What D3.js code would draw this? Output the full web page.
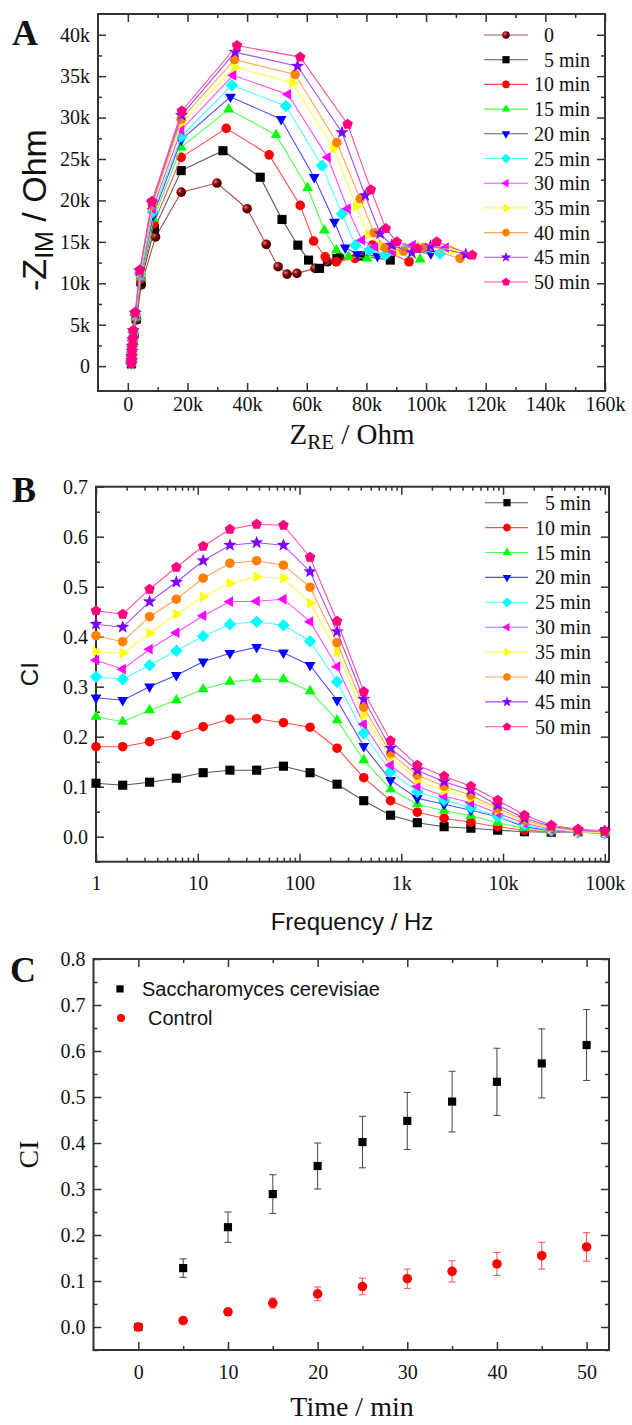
<!DOCTYPE html>
<html>
<head>
<meta charset="utf-8">
<script src="https://cdn.jsdelivr.net/npm/d3@7"></script>
<style>
  body { margin: 0; background: #fff; }
  svg { display: block; }
</style>
</head>
<body>
<svg width="632" height="1425"></svg>
<script>
// ---------- data ----------
// panel A: Nyquist plot, [Z_RE, -Z_IM] in kOhm, high frequency -> low frequency
const nyqLabels = ["0", "5 min", "10 min", "15 min", "20 min", "25 min", "30 min", "35 min", "40 min", "45 min", "50 min"];
const nyq0  = [[1.2,0.3],[1.3,0.7],[1.3,1.2],[1.4,1.7],[1.6,2.3],[1.8,3.0],[2.1,3.8],[2.9,5.6],[4.5,9.8],[9.3,15.6],[17.9,21.0],[29.9,22.1],[40.0,19.0],[46.4,14.7],[50.4,12.0],[53.4,11.1],[56.7,11.2],[62.8,11.8],[67.0,12.6],[71.0,13.2]];
const nyq5  = [[1.2,0.3],[1.3,0.7],[1.3,1.2],[1.4,1.7],[1.5,2.3],[1.7,3.0],[2.0,3.9],[2.8,5.7],[4.4,10.2],[8.9,16.6],[17.9,23.6],[31.9,26.0],[44.4,22.8],[51.7,17.7],[57.0,14.6],[60.6,12.8],[64.3,11.8],[70.1,13.0],[78.0,13.3],[88.0,12.8]];
const nyq10 = [[1.2,0.3],[1.3,0.7],[1.3,1.2],[1.4,1.7],[1.5,2.3],[1.7,3.0],[2.0,3.9],[2.8,5.8],[4.3,10.5],[8.7,17.2],[17.9,25.2],[33.0,28.7],[47.4,25.5],[57.8,19.4],[62.3,15.1],[66.2,13.2],[69.9,12.6],[76.2,13.0],[82.0,14.6],[94.3,12.6]];
const nyq15 = [[1.2,0.3],[1.3,0.7],[1.3,1.2],[1.4,1.7],[1.5,2.3],[1.7,3.1],[1.9,4.0],[2.7,5.9],[4.3,10.7],[8.6,17.8],[17.9,26.4],[33.8,31.0],[49.7,27.9],[60.3,21.5],[65.9,16.4],[69.9,14.0],[74.0,13.2],[80.2,13.0],[87.0,13.8],[98.0,12.9]];
const nyq20 = [[1.2,0.3],[1.3,0.7],[1.3,1.2],[1.4,1.7],[1.5,2.3],[1.7,3.1],[1.9,4.0],[2.7,6.0],[4.2,10.9],[8.5,18.2],[17.9,27.3],[34.4,32.5],[51.4,29.8],[62.5,22.8],[69.3,17.4],[72.9,14.3],[77.0,13.5],[83.7,13.3],[90.0,14.0],[101.6,13.6]];
const nyq25 = [[1.2,0.3],[1.3,0.7],[1.3,1.2],[1.4,1.7],[1.5,2.3],[1.7,3.1],[1.9,4.1],[2.6,6.1],[4.2,11.0],[8.4,18.6],[17.9,27.7],[34.9,33.9],[53.0,31.4],[65.1,24.2],[71.8,18.4],[76.3,14.6],[81.0,14.0],[86.3,13.4],[93.0,14.2],[104.7,13.6]];
const nyq30 = [[1.2,0.3],[1.3,0.7],[1.3,1.2],[1.4,1.7],[1.5,2.3],[1.7,3.1],[1.9,4.1],[2.6,6.2],[4.1,11.2],[8.3,19.0],[17.9,28.5],[35.3,35.1],[53.7,32.8],[67.0,25.2],[73.7,19.0],[78.5,15.2],[83.0,14.4],[89.0,13.8],[95.5,14.6],[106.6,14.3]];
const nyq35 = [[1.2,0.3],[1.3,0.7],[1.3,1.2],[1.4,1.7],[1.5,2.4],[1.7,3.2],[1.9,4.2],[2.6,6.3],[4.1,11.3],[8.2,19.3],[17.9,29.3],[35.8,36.1],[55.2,34.2],[69.0,26.3],[76.6,19.3],[80.7,15.9],[85.0,14.6],[91.0,13.8],[98.0,14.5],[109.2,14.0]];
const nyq40 = [[1.2,0.3],[1.3,0.7],[1.3,1.2],[1.4,1.7],[1.5,2.4],[1.7,3.2],[1.8,4.2],[2.5,6.3],[4.1,11.4],[8.2,19.5],[17.9,29.8],[35.8,37.0],[56.1,35.2],[70.1,27.0],[77.9,20.2],[82.6,16.1],[86.3,14.3],[92.5,13.9],[99.4,14.3],[111.4,13.0]];
const nyq45 = [[1.2,0.3],[1.3,0.7],[1.3,1.2],[1.4,1.8],[1.5,2.4],[1.7,3.2],[1.8,4.3],[2.5,6.4],[4.0,11.5],[8.1,19.7],[18.0,30.3],[36.0,37.9],[56.9,36.2],[71.8,28.2],[79.6,20.6],[84.6,16.0],[88.5,14.6],[95.2,13.7],[101.5,14.5],[113.3,13.5]];
const nyq50 = [[1.2,0.3],[1.3,0.7],[1.3,1.2],[1.4,1.8],[1.5,2.4],[1.7,3.3],[1.8,4.3],[2.5,6.5],[4.0,11.6],[8.1,19.9],[18.1,30.8],[36.6,38.7],[57.8,37.3],[73.7,29.2],[81.5,21.3],[86.5,16.6],[90.2,15.0],[97.1,14.2],[103.6,15.0],[115.5,13.4]];
const nyqTicksX = [0, 20, 40, 60, 80, 100, 120, 140, 160];
const nyqTicksY = [0, 5, 10, 15, 20, 25, 30, 35, 40];

// panel B: CI vs frequency
const freqHz = [1, 1.83, 3.36, 6.16, 11.3, 20.7, 37.9, 69.5, 127, 234, 428, 785, 1438, 2637, 4833, 8859, 16240, 29760, 54560, 100000];
const ciLabels = ["5 min", "10 min", "15 min", "20 min", "25 min", "30 min", "35 min", "40 min", "45 min", "50 min"];
const ci5  = [0.107,0.103,0.109,0.117,0.128,0.133,0.133,0.141,0.128,0.105,0.072,0.043,0.028,0.020,0.017,0.013,0.010,0.009,0.010,0.010];
const ci10 = [0.180,0.180,0.190,0.203,0.220,0.235,0.236,0.228,0.219,0.177,0.118,0.072,0.049,0.037,0.029,0.020,0.013,0.010,0.010,0.010];
const ci15 = [0.240,0.230,0.253,0.273,0.295,0.310,0.315,0.315,0.291,0.233,0.153,0.095,0.065,0.052,0.042,0.028,0.017,0.012,0.009,0.007];
const ci20 = [0.278,0.273,0.300,0.323,0.350,0.367,0.379,0.368,0.343,0.273,0.181,0.113,0.077,0.065,0.053,0.040,0.020,0.012,0.009,0.007];
const ci25 = [0.320,0.315,0.343,0.372,0.401,0.425,0.430,0.423,0.391,0.310,0.207,0.130,0.090,0.073,0.059,0.040,0.023,0.013,0.010,0.007];
const ci30 = [0.353,0.335,0.375,0.408,0.442,0.470,0.471,0.475,0.430,0.340,0.225,0.143,0.101,0.081,0.068,0.047,0.027,0.015,0.010,0.008];
const ci35 = [0.370,0.367,0.407,0.445,0.480,0.507,0.520,0.517,0.467,0.370,0.243,0.159,0.113,0.092,0.077,0.053,0.030,0.017,0.010,0.008];
const ci40 = [0.402,0.390,0.440,0.475,0.517,0.547,0.552,0.543,0.499,0.388,0.259,0.167,0.123,0.101,0.083,0.057,0.033,0.019,0.012,0.010];
const ci45 = [0.425,0.419,0.470,0.509,0.552,0.583,0.588,0.583,0.530,0.410,0.275,0.177,0.133,0.110,0.093,0.063,0.037,0.021,0.013,0.011];
const ci50 = [0.452,0.445,0.495,0.539,0.581,0.615,0.625,0.623,0.559,0.431,0.290,0.192,0.143,0.121,0.101,0.073,0.043,0.023,0.015,0.012];
const freqTicks = [1, 10, 100, 1000, 10000, 100000];
const freqTickLabels = ["1", "10", "100", "1k", "10k", "100k"];

// panel C: CI vs time
const timeMin = [0, 5, 10, 15, 20, 25, 30, 35, 40, 45, 50];
const sacCI   = [0.000, 0.128, 0.217, 0.289, 0.350, 0.402, 0.448, 0.490, 0.533, 0.573, 0.613];
const sacErr  = [0.005, 0.020, 0.033, 0.042, 0.050, 0.056, 0.062, 0.066, 0.073, 0.075, 0.077];
const ctrlCI  = [0.000, 0.014, 0.033, 0.052, 0.072, 0.088, 0.105, 0.121, 0.137, 0.155, 0.174];
const ctrlErr = [0.005, 0.004, 0.005, 0.011, 0.015, 0.018, 0.021, 0.023, 0.025, 0.029, 0.031];
const cLabels = ["Saccharomyces cerevisiae", "Control"];

// ---------- styles ----------
const serif = "'Liberation Serif','Times New Roman',serif";
const sans = "'Liberation Sans',Arial,sans-serif";
const colors = ["#8b0000", "#000000", "#ff0000", "#00ff00", "#0000ff", "#00ffff", "#ff00ff", "#ffff00", "#ff8000", "#8000ff", "#ff0080"];
const shapes = ["sphere", "square", "circle", "up", "down", "diamond", "left", "right", "circle", "star", "pentagon"];
const lineColor = c => c === "#000000" ? "#555" : d3.interpolateRgb(c, "#fff")(0.3);

const svg = d3.select("svg");
const defs = svg.append("defs");
const grad = defs.append("radialGradient").attr("id", "sphere").attr("cx", "35%").attr("cy", "35%").attr("r", "65%");
grad.append("stop").attr("offset", "0%").attr("stop-color", "#e07a7a");
grad.append("stop").attr("offset", "45%").attr("stop-color", "#8b0000");
grad.append("stop").attr("offset", "100%").attr("stop-color", "#3a0000");

function poly(pts) { return "M" + pts.map(p => p[0].toFixed(2) + "," + p[1].toFixed(2)).join("L") + "Z"; }
function ring(n, R, start) {
  return d3.range(n).map(i => {
    const a = (start + i * 360 / n) * Math.PI / 180;
    return [R * Math.cos(a), R * Math.sin(a)];
  });
}
function shapePath(shape, r) {
  switch (shape) {
    case "square": return poly([[-r*0.95,-r*0.95],[r*0.95,-r*0.95],[r*0.95,r*0.95],[-r*0.95,r*0.95]]);
    case "up": return poly(ring(3, r * 1.3, -90));
    case "down": return poly(ring(3, r * 1.3, 90));
    case "left": return poly(ring(3, r * 1.3, 180));
    case "right": return poly(ring(3, r * 1.3, 0));
    case "diamond": return poly(ring(4, r * 1.3, -90));
    case "pentagon": return poly(ring(5, r * 1.15, -90));
    case "star": {
      const pts = [];
      for (let i = 0; i < 10; i++) {
        const a = (-90 + i * 36) * Math.PI / 180, R = i % 2 ? r * 0.6 : r * 1.45;
        pts.push([R * Math.cos(a), R * Math.sin(a)]);
      }
      return poly(pts);
    }
    default: return d3.symbol(d3.symbolCircle, Math.PI * r * r)();
  }
}
function marker(g, shape, color, x, y, r) {
  g.append("path")
    .attr("d", shapePath(shape, r))
    .attr("transform", `translate(${x},${y})`)
    .attr("fill", shape === "sphere" ? "url(#sphere)" : color);
}

// frame with inward ticks on all four sides
function frame(box, x, y, xMajor, xMinor, xFmt, yMajor, yMinor, yFmt, pad) {
  const g = svg.append("g");
  const style = s => s.attr("font-family", serif).attr("font-size", 20);
  g.append("g").attr("transform", `translate(0,${box.b})`)
    .call(d3.axisBottom(x).tickValues(xMajor).tickSize(-8).tickPadding(pad.x).tickFormat(xFmt)).call(style);
  g.append("g").attr("transform", `translate(0,${box.b})`)
    .call(d3.axisBottom(x).tickValues(xMinor).tickSize(-4).tickFormat(""));
  g.append("g").attr("transform", `translate(0,${box.t})`)
    .call(d3.axisTop(x).tickValues(xMajor).tickSize(-8).tickFormat(""));
  g.append("g").attr("transform", `translate(0,${box.t})`)
    .call(d3.axisTop(x).tickValues(xMinor).tickSize(-4).tickFormat(""));
  g.append("g").attr("transform", `translate(${box.l},0)`)
    .call(d3.axisLeft(y).tickValues(yMajor).tickSize(-8).tickPadding(pad.y).tickFormat(yFmt)).call(style);
  g.append("g").attr("transform", `translate(${box.l},0)`)
    .call(d3.axisLeft(y).tickValues(yMinor).tickSize(-4).tickFormat(""));
  g.append("g").attr("transform", `translate(${box.r},0)`)
    .call(d3.axisRight(y).tickValues(yMajor).tickSize(-8).tickFormat(""));
  g.append("g").attr("transform", `translate(${box.r},0)`)
    .call(d3.axisRight(y).tickValues(yMinor).tickSize(-4).tickFormat(""));
  g.selectAll(".domain").remove();
  g.selectAll("line").attr("stroke", "#333").attr("stroke-width", 1.5);
  g.selectAll("text").attr("fill", "#111");
  g.append("rect").attr("x", box.l).attr("y", box.t)
    .attr("width", box.r - box.l).attr("height", box.b - box.t)
    .attr("fill", "none").attr("stroke", "#333").attr("stroke-width", 2);
}

function panelLetter(t, x, y) {
  svg.append("text").attr("x", x).attr("y", y)
    .attr("font-family", serif).attr("font-weight", "bold").attr("font-size", 36)
    .attr("fill", "#111").text(t);
}

// ---------- panel A ----------
const boxA = {l: 98, r: 605, t: 14, b: 391};
const xA = d3.scaleLinear().domain([-10, 160]).range([boxA.l, boxA.r]);
const yA = d3.scaleLinear().domain([-3, 42.5]).range([boxA.b, boxA.t]);
const nyqSeries = [nyq0, nyq5, nyq10, nyq15, nyq20, nyq25, nyq30, nyq35, nyq40, nyq45, nyq50];

frame(boxA, xA, yA, nyqTicksX, d3.range(10, 160, 20), d => d === 0 ? "0" : d + "k",
      nyqTicksY, d3.range(2.5, 42, 5), d => d === 0 ? "0" : d + "k", {x: 6, y: 8});

const gA = svg.append("g");
nyqSeries.forEach((s, i) => {
  gA.append("path").datum(s)
    .attr("d", d3.line().x(d => xA(d[0])).y(d => yA(d[1])))
    .attr("fill", "none").attr("stroke", lineColor(colors[i])).attr("stroke-width", 1.1);
  s.forEach(d => marker(gA, shapes[i], colors[i], xA(d[0]), yA(d[1]), 4.8));
});

// legend A
const legA = svg.append("g");
nyqLabels.forEach((lab, i) => {
  const y = 35 + i * 24.7;
  legA.append("line").attr("x1", 484).attr("x2", 528).attr("y1", y).attr("y2", y)
    .attr("stroke", lineColor(colors[i])).attr("stroke-width", 1.1);
  marker(legA, shapes[i], colors[i], 506, y, 3.8);
  legA.append("text").attr("x", /^\d\d/.test(lab) ? 534 : 544).attr("y", y + 7)
    .attr("font-family", serif).attr("font-size", 20).attr("fill", "#111").text(lab);
});

// axis titles A
const tA = svg.append("text").attr("x", 352).attr("y", 444).attr("text-anchor", "middle")
  .attr("font-family", serif).attr("font-size", 29).attr("fill", "#111");
tA.append("tspan").text("Z");
tA.append("tspan").attr("font-size", 21).attr("dy", 5).text("RE");
tA.append("tspan").attr("dy", -5).text(" / Ohm");

const tAy = svg.append("text").attr("transform", `translate(46,210) rotate(-90)`)
  .attr("text-anchor", "middle").attr("font-family", sans).attr("font-size", 34).attr("fill", "#111");
tAy.append("tspan").text("-Z");
tAy.append("tspan").attr("font-size", 25).attr("dy", 7).text("IM");
tAy.append("tspan").attr("dy", -7).text(" / Ohm");

panelLetter("A", 12, 45);

// ---------- panel B ----------
const boxB = {l: 96, r: 609, t: 486.7, b: 861.7};
const xB = d3.scaleLog().domain([1, 110000]).range([boxB.l, boxB.r]);
const yB = d3.scaleLinear().domain([-0.05, 0.7]).range([boxB.b, boxB.t]);
const ciSeries = [ci5, ci10, ci15, ci20, ci25, ci30, ci35, ci40, ci45, ci50];
const logMinor = [];
[1, 10, 100, 1000, 10000, 100000].forEach(dec => {
  for (let k = 2; k <= 9; k++) if (dec * k <= 110000) logMinor.push(dec * k);
});

frame(boxB, xB, yB, freqTicks, logMinor, (d, i) => freqTickLabels[i],
      d3.range(0, 0.71, 0.1), d3.range(-0.05, 0.7, 0.1), d3.format(".1f"), {x: 14, y: 8});

const gB = svg.append("g");
ciSeries.forEach((s, j) => {
  const i = j + 1;
  gB.append("path").datum(s)
    .attr("d", d3.line().x((d, k) => xB(freqHz[k])).y(d => yB(d)))
    .attr("fill", "none").attr("stroke", lineColor(colors[i])).attr("stroke-width", 1.1);
  s.forEach((d, k) => marker(gB, shapes[i], colors[i], xB(freqHz[k]), yB(d), 4.8));
});

const legB = svg.append("g");
ciLabels.forEach((lab, j) => {
  const i = j + 1, y = 502.7 + j * 24.9;
  legB.append("line").attr("x1", 485).attr("x2", 528).attr("y1", y).attr("y2", y)
    .attr("stroke", lineColor(colors[i])).attr("stroke-width", 1.1);
  marker(legB, shapes[i], colors[i], 507, y, 3.8);
  legB.append("text").attr("x", /^\d\d/.test(lab) ? 535 : 545).attr("y", y + 7)
    .attr("font-family", serif).attr("font-size", 20).attr("fill", "#111").text(lab);
});

svg.append("text").attr("x", 352).attr("y", 930).attr("text-anchor", "middle")
  .attr("font-family", sans).attr("font-size", 24).attr("fill", "#111").text("Frequency / Hz");
svg.append("text").attr("transform", `translate(38,${(boxB.t + boxB.b) / 2}) rotate(-90)`)
  .attr("text-anchor", "middle").attr("font-family", sans).attr("font-size", 24).attr("fill", "#111").text("CI");
panelLetter("B", 12, 502);

// ---------- panel C ----------
const boxC = {l: 93.5, r: 609, t: 959, b: 1350};
const xC = d3.scaleLinear().domain([-5, 52.5]).range([boxC.l, boxC.r]);
const yC = d3.scaleLinear().domain([-0.05, 0.8]).range([boxC.b, boxC.t]);

frame(boxC, xC, yC, d3.range(0, 51, 10), d3.range(5, 51, 10), d3.format("d"),
      d3.range(0, 0.81, 0.1), d3.range(-0.05, 0.8, 0.1), d3.format(".1f"), {x: 15, y: 8});

const gC = svg.append("g");
function errBars(mean, err, color) {
  timeMin.forEach((t, k) => {
    const x = xC(t), y1 = yC(mean[k] - err[k]), y2 = yC(mean[k] + err[k]);
    gC.append("line").attr("x1", x).attr("x2", x).attr("y1", y1).attr("y2", y2).attr("stroke", color).attr("stroke-width", 1);
    [y1, y2].forEach(yy => gC.append("line").attr("x1", x - 3.5).attr("x2", x + 3.5)
      .attr("y1", yy).attr("y2", yy).attr("stroke", color).attr("stroke-width", 1));
  });
}
errBars(sacCI, sacErr, "#444");
timeMin.forEach((t, k) => marker(gC, "square", "#000", xC(t), yC(sacCI[k]), 4.3));
errBars(ctrlCI, ctrlErr, "#ff5050");
timeMin.forEach((t, k) => marker(gC, "circle", "#ff0000", xC(t), yC(ctrlCI[k]), 4.8));

// legend C
marker(gC, "square", "#000", 120, yC(0.735), 3.8);
svg.append("text").attr("x", 142).attr("y", yC(0.735) + 7).attr("font-family", sans)
  .attr("font-size", 20).attr("fill", "#111").text(cLabels[0]);
marker(gC, "circle", "#ff0000", 121, yC(0.672), 4);
svg.append("text").attr("x", 148).attr("y", yC(0.672) + 7).attr("font-family", sans)
  .attr("font-size", 20).attr("fill", "#111").text(cLabels[1]);

svg.append("text").attr("x", 352).attr("y", 1416).attr("text-anchor", "middle")
  .attr("font-family", serif).attr("font-size", 28).attr("fill", "#111").text("Time / min");
svg.append("text").attr("transform", `translate(38,${(boxC.t + boxC.b) / 2}) rotate(-90)`)
  .attr("text-anchor", "middle").attr("font-family", serif).attr("font-size", 28).attr("fill", "#111").text("CI");
panelLetter("C", 10, 982);
</script>
</body>
</html>
